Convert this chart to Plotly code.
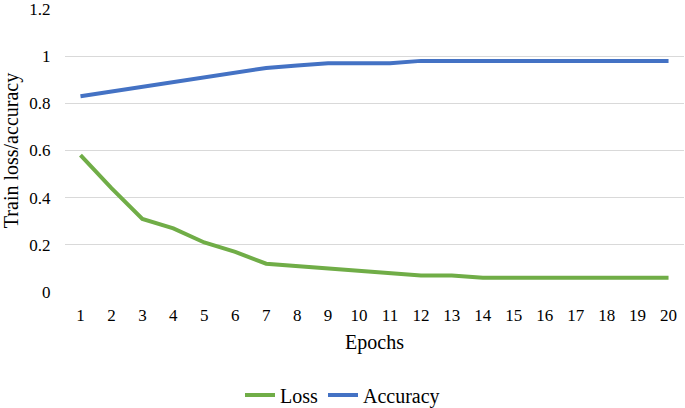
import plotly.graph_objects as go

epochs = list(range(1, 21))
loss = [0.58, 0.44, 0.31, 0.27, 0.21, 0.17, 0.12, 0.11, 0.10, 0.09,
        0.08, 0.07, 0.07, 0.06, 0.06, 0.06, 0.06, 0.06, 0.06, 0.06]
accuracy = [0.83, 0.85, 0.87, 0.89, 0.91, 0.93, 0.95, 0.96, 0.97, 0.97,
            0.97, 0.98, 0.98, 0.98, 0.98, 0.98, 0.98, 0.98, 0.98, 0.98]

FAMILY = "Liberation Serif"
tick_font = dict(family=FAMILY, size=17, color="#000000")
title_font = dict(family=FAMILY, size=20, color="#000000")

fig = go.Figure()
fig.add_trace(go.Scatter(x=epochs, y=loss, mode="lines", name="Loss",
                         line=dict(color="#70AD47", width=4)))
fig.add_trace(go.Scatter(x=epochs, y=accuracy, mode="lines", name="Accuracy",
                         line=dict(color="#4472C4", width=4)))

fig.update_layout(
    width=685, height=408,
    margin=dict(l=65, r=1, t=9, b=116, autoexpand=False),
    paper_bgcolor="white", plot_bgcolor="white",
    font=title_font,
    showlegend=True,
    legend=dict(orientation="h", xref="container", x=0.5, xanchor="center",
                yref="container", y=0.032, yanchor="middle",
                font=title_font, itemwidth=30, tracegroupgap=0),
    xaxis=dict(range=[0.5, 20.5], tickmode="array", tickvals=epochs,
               showgrid=False, zeroline=False, showline=False, automargin=False,
               ticks="outside", ticklen=8, tickcolor="rgba(0,0,0,0)",
               ticklabeloverflow="allow",
               title=dict(text="Epochs", font=title_font, standoff=10), tickfont=tick_font),
    yaxis=dict(range=[0, 1.2], dtick=0.2, tick0=0, automargin=False,
               showgrid=True, gridcolor="#D9D9D9", gridwidth=1,
               zeroline=False, showline=False,
               ticks="outside", ticklen=10, tickcolor="rgba(0,0,0,0)",
               ticklabeloverflow="allow",
               title=dict(text="Train loss/accuracy", font=title_font, standoff=10), tickfont=tick_font),
)

fig.write_html("out.html", config={"displayModeBar": False},
               post_script="document.body.style.margin='0';document.body.style.overflow='hidden';")
